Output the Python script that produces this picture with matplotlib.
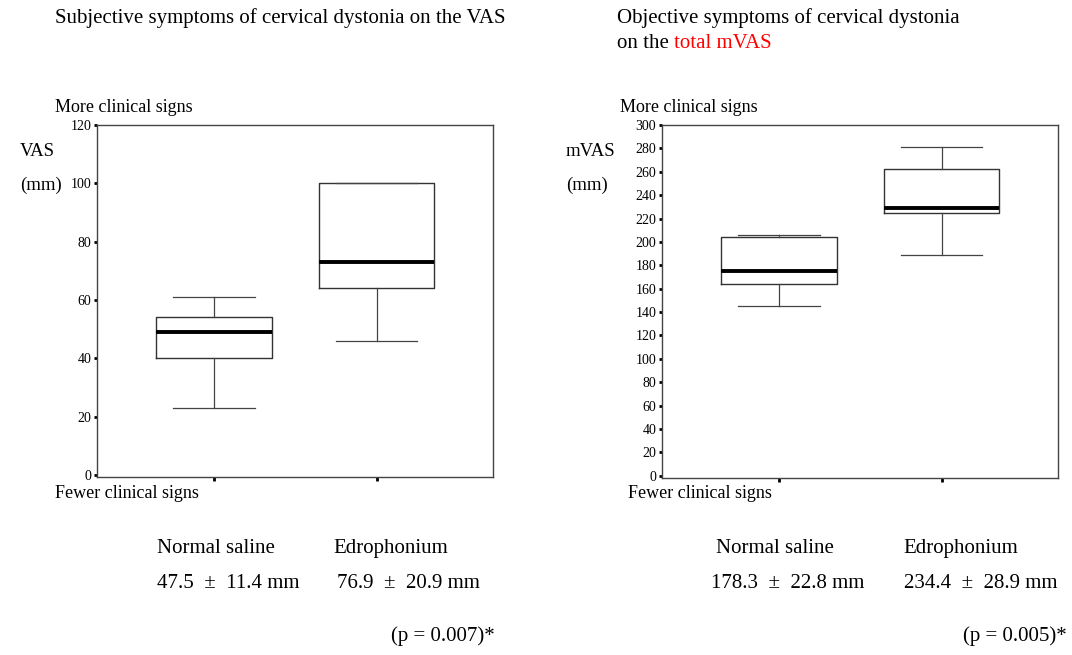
"""
Boxplots VAS / mVAS (normal saline vs edrophonium)
"""

import matplotlib
matplotlib.use('Agg')
from matplotlib import pyplot as plt

plt.rcParams['font.family'] = ['Liberation Serif', 'DejaVu Serif']

# --- donnees ---
groups = ["Normal saline", "Edrophonium"]

# VAS (mm): whisker bas, Q1, mediane, Q3, whisker haut
vas_low = [23, 46]
vas_q1 = [40, 64]
vas_med = [49, 73]
vas_q3 = [54, 100]
vas_high = [61, 100]
vas_summary = ["47.5  \u00b1  11.4 mm", "76.9  \u00b1  20.9 mm"]
vas_p = "(p = 0.007)*"

# mVAS total (mm)
mvas_low = [145, 189]
mvas_q1 = [164, 225]
mvas_med = [175, 229]
mvas_q3 = [204, 262]
mvas_high = [206, 281]
mvas_summary = ["178.3  \u00b1  22.8 mm", "234.4  \u00b1  28.9 mm"]
mvas_p = "(p = 0.005)*"

vas_ticks = list(range(0, 121, 20))
mvas_ticks = list(range(0, 301, 20))

W, H = 1072, 655
fig = plt.figure(figsize=(W / 100, H / 100), dpi=100)


def fx(x):
    return x / W


def fy(y):
    return 1 - y / H


def draw_box(ax, low, q1, med, q3, high, ticks, ymin):
    stats = []
    for i in range(len(groups)):
        stats.append({"whislo": low[i], "q1": q1[i], "med": med[i],
                      "q3": q3[i], "whishi": high[i], "fliers": [],
                      "label": ""})
    ax.bxp(stats, positions=[1, 2], widths=0.71, showfliers=False,
           capwidths=0.5,
           boxprops=dict(color="#333333", linewidth=1.0),
           medianprops=dict(color="black", linewidth=2.8),
           whiskerprops=dict(color="#444444", linewidth=0.9),
           capprops=dict(color="#444444", linewidth=0.9))
    ax.set_xlim(0.28, 2.713)
    ax.set_ylim(ymin, ticks[-1])
    ax.set_yticks(ticks)
    ax.set_xticks([1, 2])
    ax.set_xticklabels([])
    ax.tick_params(axis="y", length=2.5, width=2, labelsize=10, pad=1.5,
                   color="black")
    ax.tick_params(axis="x", length=3, width=2, color="black")
    for s in ax.spines.values():
        s.set_color("#444444")
        s.set_linewidth(1.0)


# panneau gauche
ax1 = fig.add_axes([fx(96.7), fy(477), fx(396), 352 / H])
draw_box(ax1, vas_low, vas_q1, vas_med, vas_q3, vas_high, vas_ticks, -0.7)

# panneau droit
ax2 = fig.add_axes([fx(661.7), fy(478), fx(396), 353 / H])
draw_box(ax2, mvas_low, mvas_q1, mvas_med, mvas_q3, mvas_high, mvas_ticks, -2)

# titres
fig.text(fx(55), fy(23), "Subjective symptoms of cervical dystonia on the VAS",
         fontsize=15, va="baseline")
fig.text(fx(617), fy(23), "Objective symptoms of cervical dystonia",
         fontsize=15, va="baseline")
t1 = fig.text(fx(617), fy(48), "on the ", fontsize=15, va="baseline")
ax2.annotate("total mVAS", xy=(1, 0), xycoords=t1, va="bottom", ha="left",
             fontsize=15, color="red")

# libelles d'axes
for x0, xl, lab in [(55, 20, "VAS"), (620, 566, "mVAS")]:
    fig.text(fx(x0), fy(108), "More clinical signs", fontsize=13, va="center")
    fig.text(fx(xl), fy(151), lab, fontsize=13.5, va="center")
    fig.text(fx(xl), fy(185), "(mm)", fontsize=13.5, va="center")
fig.text(fx(55), fy(494), "Fewer clinical signs", fontsize=13, va="center")
fig.text(fx(628), fy(494), "Fewer clinical signs", fontsize=13, va="center")

# resume en bas
fig.text(fx(157), fy(553), groups[0], fontsize=15, va="baseline")
fig.text(fx(333), fy(553), groups[1], fontsize=15, va="baseline")
fig.text(fx(157), fy(588), vas_summary[0], fontsize=15, va="baseline")
fig.text(fx(337), fy(588), vas_summary[1], fontsize=15, va="baseline")
fig.text(fx(391), fy(641), vas_p, fontsize=15, va="baseline")

fig.text(fx(716), fy(553), groups[0], fontsize=15, va="baseline")
fig.text(fx(903), fy(553), groups[1], fontsize=15, va="baseline")
fig.text(fx(711), fy(588), mvas_summary[0], fontsize=15, va="baseline")
fig.text(fx(904), fy(588), mvas_summary[1], fontsize=15, va="baseline")
fig.text(fx(963), fy(641), mvas_p, fontsize=15, va="baseline")

fig.savefig("out.png", dpi=100)
